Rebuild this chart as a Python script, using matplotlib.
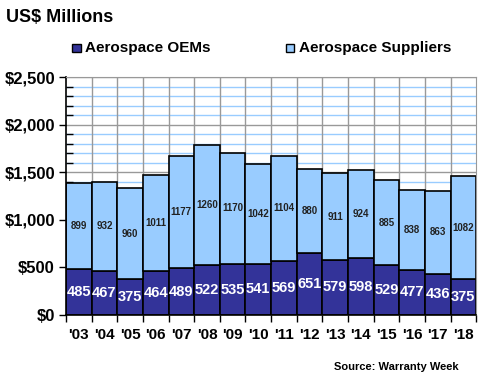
import numpy as np
import matplotlib.pyplot as plt
from matplotlib.ticker import MultipleLocator, FuncFormatter

years = ["'03", "'04", "'05", "'06", "'07", "'08", "'09", "'10",
         "'11", "'12", "'13", "'14", "'15", "'16", "'17", "'18"]
oems = [485, 467, 375, 464, 489, 522, 535, 541, 569, 651, 579, 598, 529, 477, 436, 375]
suppliers = [899, 932, 960, 1011, 1177, 1260, 1170, 1042, 1104, 880, 911, 924, 885, 838, 863, 1082]

dark = "#333399"
light = "#99CCFF"

plt.rcParams['font.family'] = ['Liberation Sans', 'DejaVu Sans']

fig = plt.figure(figsize=(4.8, 3.8), dpi=100)
ax = fig.add_axes([0.1375, 0.171, 0.8545, 0.626])

x = np.arange(len(years))
oem = np.array(oems)
sup = np.array(suppliers)

ax.bar(x, oem, width=1.0, color=dark, edgecolor="black", linewidth=1.2, zorder=2)
ax.bar(x, sup, width=1.0, bottom=oem, color=light, edgecolor="black", linewidth=1.2, zorder=2)

for i in range(len(years)):
    ax.text(x[i], oem[i] / 2, str(oem[i]), ha="center", va="center",
            color="white", fontsize=10.5, fontweight="bold", zorder=4)
    ax.text(x[i], oem[i] + sup[i] / 2, str(sup[i]), ha="center", va="center",
            color="#222222", fontsize=7, fontweight="bold", zorder=4)

ax.set_xlim(-0.5, len(years) - 0.5)
ax.set_ylim(0, 2500)

# grid: light blue every 100, gray every 500, gray verticals between bars
for v in range(100, 2500, 100):
    if v % 500 != 0:
        ax.axhline(v, color=light, linewidth=1, zorder=1)
for v in range(500, 2501, 500):
    ax.axhline(v, color="#999999", linewidth=1, zorder=1)
for b in np.arange(0.5, len(years) - 0.5, 1):
    ax.axvline(b, color="#999999", linewidth=1, zorder=1)

ax.yaxis.set_major_locator(MultipleLocator(500))
ax.yaxis.set_minor_locator(MultipleLocator(100))
ax.yaxis.set_major_formatter(FuncFormatter(lambda v, p: "${:,.0f}".format(v)))
ax.tick_params(axis="y", which="major", direction="out", length=5, width=1, labelsize=12, pad=3)
ax.tick_params(axis="y", which="minor", direction="in", length=5, width=1)
for lab in ax.get_yticklabels():
    lab.set_fontweight("bold")

ax.set_xticks(np.arange(-0.5, len(years), 1))
ax.set_xticklabels([])
ax.tick_params(axis="x", which="major", direction="out", length=5, width=1)
ax.set_xticks(x, minor=True)
ax.set_xticklabels(years, minor=True, fontsize=11, fontweight="bold")
ax.tick_params(axis="x", which="minor", length=0, pad=9)

for s in ["top", "right"]:
    ax.spines[s].set_color("#999999")
for s in ["left", "bottom"]:
    ax.spines[s].set_color("black")
    ax.spines[s].set_linewidth(1.2)

fig.text(0.012, 0.955, "US$ Millions", fontsize=13, fontweight="bold", va="center")

fig.patches.append(plt.Rectangle((0.15, 0.862), 0.018, 0.023, transform=fig.transFigure,
                                 facecolor=dark, edgecolor="black", linewidth=1))
fig.text(0.178, 0.874, "Aerospace OEMs", fontsize=11, fontweight="bold", va="center")
fig.patches.append(plt.Rectangle((0.595, 0.862), 0.018, 0.023, transform=fig.transFigure,
                                 facecolor=light, edgecolor="black", linewidth=1))
fig.text(0.623, 0.874, "Aerospace Suppliers", fontsize=11, fontweight="bold", va="center")

fig.text(0.955, 0.034, "Source: Warranty Week", fontsize=8, fontweight="bold",
         ha="right", va="center")

fig.savefig("out.png", dpi=100)
